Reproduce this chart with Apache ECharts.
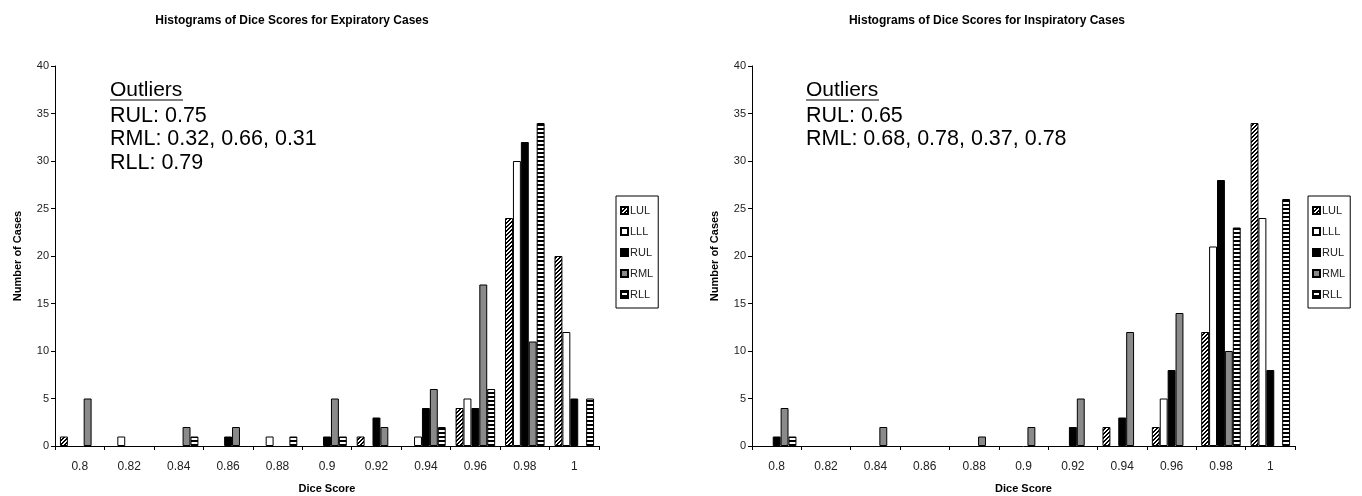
<!DOCTYPE html>
<html>
<head>
<meta charset="utf-8">
<script src="https://cdn.jsdelivr.net/npm/echarts@6/dist/echarts.min.js"></script>
<style>
  html, body { margin: 0; padding: 0; background: #fff; }
  #main { width: 1362px; height: 496px; }
</style>
</head>
<body>
<div id="main"></div>
<script>
  // dice score bins
  var categories = ['0.8', '0.82', '0.84', '0.86', '0.88', '0.9', '0.92', '0.94', '0.96', '0.98', '1'];
  var lobes = ['LUL', 'LLL', 'RUL', 'RML', 'RLL'];

  // expiratory counts per bin
  var expLUL = [1, 0, 0, 0, 0, 0, 1, 0, 4, 24, 20];
  var expLLL = [0, 1, 0, 0, 1, 0, 0, 1, 5, 30, 12];
  var expRUL = [0, 0, 0, 1, 0, 1, 3, 4, 4, 32, 5];
  var expRML = [5, 0, 2, 2, 0, 5, 2, 6, 17, 11, 0];
  var expRLL = [0, 0, 1, 0, 1, 1, 0, 2, 6, 34, 5];

  // inspiratory counts per bin
  var insLUL = [0, 0, 0, 0, 0, 0, 0, 2, 2, 12, 34];
  var insLLL = [0, 0, 0, 0, 0, 0, 0, 0, 5, 21, 24];
  var insRUL = [1, 0, 0, 0, 0, 0, 2, 3, 8, 28, 8];
  var insRML = [4, 0, 2, 0, 1, 2, 5, 12, 14, 10, 0];
  var insRLL = [1, 0, 0, 0, 0, 0, 0, 0, 0, 23, 26];

  var expOutliers = ['RUL: 0.75', 'RML: 0.32, 0.66, 0.31', 'RLL: 0.79'];
  var insOutliers = ['RUL: 0.65', 'RML: 0.68, 0.78, 0.37, 0.78'];

  function pattern(type) {
    var c = document.createElement('canvas');
    var n = 4;
    c.width = n; c.height = n;
    var ctx = c.getContext('2d');
    ctx.fillStyle = '#fff';
    ctx.fillRect(0, 0, n, n);
    ctx.fillStyle = '#000';
    for (var x = 0; x < n; x++) {
      for (var y = 0; y < n; y++) {
        var on = false;
        if (type === 'diag') on = ((x + y) % 4) < 2;
        if (type === 'horiz') on = (y % 4) < 2;
        if (on) ctx.fillRect(x, y, 1, 1);
      }
    }
    return { image: c, repeat: 'repeat' };
  }

  var fills = [pattern('diag'), '#fff', '#000', '#8a8a8a', pattern('horiz')];
  var expData = [expLUL, expLLL, expRUL, expRML, expRLL];
  var insData = [insLUL, insLLL, insRUL, insRML, insRLL];

  var txt = '#222';
  var font = 'Liberation Sans, Arial, sans-serif';

  function xAxis(idx) {
    return {
      type: 'category', gridIndex: idx, data: categories,
      name: 'Dice Score', nameLocation: 'middle', nameGap: 37,
      nameTextStyle: { fontWeight: 'bold', fontSize: 11, color: '#000', fontFamily: font },
      axisLine: { lineStyle: { color: '#000', width: 1 } },
      axisTick: { show: true, length: 4, lineStyle: { color: '#000' } },
      axisLabel: { fontSize: 12, color: txt, margin: 15, fontFamily: font }
    };
  }
  function yAxis(idx) {
    return {
      type: 'value', gridIndex: idx, min: 0, max: 40, interval: 5,
      name: 'Number of Cases', nameLocation: 'middle', nameGap: 32,
      nameTextStyle: { fontWeight: 'bold', fontSize: 11, color: '#000', fontFamily: font },
      axisLine: { show: true, lineStyle: { color: '#000', width: 1 } },
      axisTick: { show: true, length: 4, lineStyle: { color: '#000' } },
      axisLabel: { fontSize: 11, color: txt, margin: 6, fontFamily: font },
      splitLine: { show: false }
    };
  }

  var series = [];
  [expData, insData].forEach(function (set, g) {
    set.forEach(function (vals, i) {
      series.push({
        name: lobes[i], type: 'bar', xAxisIndex: g, yAxisIndex: g,
        // empty bins are not drawn at all
        data: vals.map(function (v) { return v === 0 ? '-' : v; }),
        barGap: '0%', barCategoryGap: '20%',
        itemStyle: { color: fills[i], borderColor: '#000', borderWidth: 1 },
        emphasis: { disabled: true }
      });
    });
  });

  function legend(left) {
    return {
      data: lobes, orient: 'vertical', left: left, top: 196,
      icon: 'rect', itemWidth: 7, itemHeight: 7, itemGap: 10,
      padding: [9, 5, 8, 4],
      borderColor: '#000', borderWidth: 1,
      selectedMode: false,
      textStyle: { fontSize: 11, color: txt, padding: [0, 0, 0, -3], fontFamily: font }
    };
  }

  function outlierText(x, lines) {
    return [
      { type: 'text', left: x, top: 80, style: { text: 'Outliers', font: '21px ' + font, fill: '#000' } },
      { type: 'line', shape: { x1: x, y1: 100, x2: x + 73, y2: 100 }, style: { stroke: '#000', lineWidth: 1 } },
      { type: 'text', left: x, top: 104, style: { text: lines.join('\n'), font: '21.5px ' + font, fill: '#000', lineHeight: 23.5 } }
    ];
  }

  var myChart = echarts.init(document.getElementById('main'), null, { renderer: 'canvas' });
  var option = {
    animation: false,
    backgroundColor: '#fff',
    title: [
      { text: 'Histograms of Dice Scores for Expiratory Cases', left: 287, top: 10, textAlign: 'center',
        textStyle: { fontSize: 12, fontWeight: 'bold', color: '#000', fontFamily: font } },
      { text: 'Histograms of Dice Scores for Inspiratory Cases', left: 982, top: 10, textAlign: 'center',
        textStyle: { fontSize: 12, fontWeight: 'bold', color: '#000', fontFamily: font } }
    ],
    legend: [legend(616), legend(1308)],
    grid: [
      { left: 55, top: 66, width: 544, height: 380, outerBoundsMode: 'none' },
      { left: 752, top: 66, width: 543, height: 380, outerBoundsMode: 'none' }
    ],
    xAxis: [xAxis(0), xAxis(1)],
    yAxis: [yAxis(0), yAxis(1)],
    series: series,
    graphic: outlierText(110, expOutliers).concat(outlierText(806, insOutliers))
  };
  myChart.setOption(option, true);
</script>
</body>
</html>
